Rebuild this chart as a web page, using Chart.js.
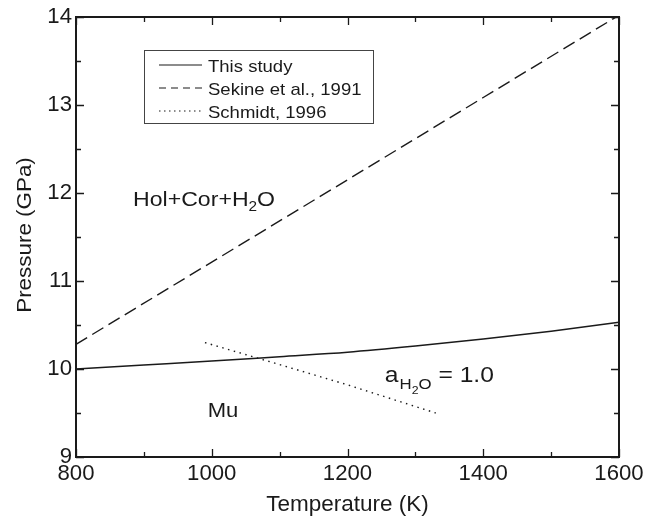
<!DOCTYPE html>
<html>
<head>
<meta charset="utf-8">
<script src="https://cdn.jsdelivr.net/npm/chart.js@4/dist/chart.umd.min.js"></script>
<style>
  body { margin: 0; background: #fff; }
  canvas { display: block; }
</style>
</head>
<body>
<canvas id="chart" width="661" height="519"></canvas>
<script>
// values
const studyT = [800, 900, 1000, 1100, 1200, 1300, 1400, 1500, 1600];
const studyP = [10.00, 10.045, 10.09, 10.14, 10.19, 10.26, 10.34, 10.43, 10.53];
const sekineT = [800, 1000, 1200, 1400, 1600];
const sekineP = [10.28, 11.215, 12.15, 13.085, 14.02];
const schmidtT = [990, 1100, 1200, 1330];
const schmidtP = [10.30, 10.05, 9.82, 9.50];

const seriesNames = ['This study', 'Sekine et al., 1991', 'Schmidt, 1996'];
const xTicks = [800, 1000, 1200, 1400, 1600];
const xMinor = [900, 1100, 1300, 1500];
const yTicks = [9, 10, 11, 12, 13, 14];
const yMinor = [9.5, 10.5, 11.5, 12.5, 13.5];

const FONT = '"Liberation Sans", Arial, sans-serif';
const INK = '#1a1a1a';

const pts = (xs, ys) => xs.map((x, i) => ({ x: x, y: ys[i] }));

// text with optional horizontal stretch, returns advance width
function txt(ctx, s, x, y, size, align, sx) {
    sx = sx || 1;
    ctx.save();
    ctx.translate(x, y);
    ctx.scale(sx, 1);
    ctx.font = size + 'px ' + FONT;
    ctx.textAlign = align || 'left';
    ctx.textBaseline = 'alphabetic';
    ctx.fillStyle = INK;
    ctx.fillText(s, 0, 0);
    const w = ctx.measureText(s).width * sx;
    ctx.restore();
    return w;
}

// Frame, inward ticks, labels and annotations
const decor = {
    id: 'decor',
    afterDraw(chart) {
        const ctx = chart.ctx;
        const a = chart.chartArea;
        const xs = chart.scales.x, ys = chart.scales.y;

        ctx.save();
        ctx.strokeStyle = INK;
        ctx.lineWidth = 2;
        ctx.strokeRect(a.left, a.top, a.right - a.left, a.bottom - a.top);

        ctx.lineWidth = 1.3;
        ctx.beginPath();
        const tickX = (v, len) => {
            const p = Math.round(xs.getPixelForValue(v)) + 0.5;
            ctx.moveTo(p, a.bottom); ctx.lineTo(p, a.bottom - len);
            ctx.moveTo(p, a.top); ctx.lineTo(p, a.top + len);
        };
        const tickY = (v, len) => {
            const p = Math.round(ys.getPixelForValue(v)) + 0.5;
            ctx.moveTo(a.left, p); ctx.lineTo(a.left + len, p);
            ctx.moveTo(a.right, p); ctx.lineTo(a.right - len, p);
        };
        xTicks.forEach(v => tickX(v, 8));
        xMinor.forEach(v => tickX(v, 5));
        yTicks.forEach(v => tickY(v, 8));
        yMinor.forEach(v => tickY(v, 5));
        ctx.stroke();
        ctx.restore();

        // tick labels
        xTicks.forEach(v => txt(ctx, String(v), xs.getPixelForValue(v), a.bottom + 23, 21.5, 'center', 1.03));
        yTicks.forEach(v => txt(ctx, String(v), a.left - 4, ys.getPixelForValue(v) + 6, 21.5, 'right', 1.03));

        // axis titles
        txt(ctx, 'Temperature (K)', (a.left + a.right) / 2, 511, 22.5, 'center', 1.0);
        ctx.save();
        ctx.translate(31, 235);
        ctx.rotate(-Math.PI / 2);
        ctx.scale(1.12, 1);
        ctx.font = '20px ' + FONT;
        ctx.textAlign = 'center';
        ctx.textBaseline = 'alphabetic';
        ctx.fillStyle = INK;
        ctx.fillText('Pressure (GPa)', 0, 0);
        ctx.restore();

        // field labels
        let x = xs.getPixelForValue(884), y = ys.getPixelForValue(11.85);
        x += txt(ctx, 'Hol+Cor+H', x, y, 21, 'left', 1.1);
        x += txt(ctx, '2', x, y + 5, 14, 'left', 1.1);
        txt(ctx, 'O', x, y, 21, 'left', 1.1);

        txt(ctx, 'Mu', xs.getPixelForValue(994), ys.getPixelForValue(9.455), 21, 'left', 1.05);

        x = xs.getPixelForValue(1255); y = ys.getPixelForValue(9.85);
        x += txt(ctx, 'a', x, y, 22, 'left', 1.12);
        x += txt(ctx, 'H', x + 1, y + 7, 15, 'left', 1.12) + 1;
        x += txt(ctx, '2', x, y + 12, 11, 'left', 1.12);
        x += txt(ctx, 'O', x, y + 7, 15, 'left', 1.12);
        txt(ctx, ' = 1.0', x, y, 22, 'left', 1.12);

        // legend box
        const lx = a.left + 68, ly = a.top + 33;
        ctx.save();
        ctx.strokeStyle = '#444';
        ctx.lineWidth = 1;
        ctx.strokeRect(lx + 0.5, ly + 0.5, 229, 73);
        const dashes = [[], [7, 5], [1.5, 3.5]];
        dashes.forEach((d, i) => {
            const yy = ly + 15 + i * 23;
            ctx.strokeStyle = INK;
            ctx.lineWidth = 1.2;
            ctx.setLineDash(d);
            ctx.beginPath();
            ctx.moveTo(lx + 15, yy);
            ctx.lineTo(lx + 58, yy);
            ctx.stroke();
            ctx.setLineDash([]);
            txt(ctx, seriesNames[i], lx + 64, yy + 6.5, 17, 'left', 1.09);
        });
        ctx.restore();
    }
};

new Chart(document.getElementById('chart'), {
    type: 'line',
    data: {
        datasets: [{
            label: seriesNames[0],
            data: pts(studyT, studyP),
            borderColor: INK,
            borderWidth: 1.5,
            cubicInterpolationMode: 'monotone'
        }, {
            label: seriesNames[1],
            data: pts(sekineT, sekineP),
            borderColor: INK,
            borderWidth: 1.4,
            borderDash: [13, 6]
        }, {
            label: seriesNames[2],
            data: pts(schmidtT, schmidtP),
            borderColor: INK,
            borderWidth: 1.4,
            borderDash: [1.5, 4.5]
        }]
    },
    options: {
        responsive: false,
        animation: false,
        parsing: false,
        elements: { point: { radius: 0 } },
        layout: { padding: { left: 76, top: 17, right: 42, bottom: 62 } },
        plugins: {
            legend: { display: false },
            tooltip: { enabled: false }
        },
        scales: {
            x: { type: 'linear', min: 800, max: 1600, display: false },
            y: { type: 'linear', min: 9, max: 14, display: false }
        }
    },
    plugins: [decor]
});
</script>
</body>
</html>
